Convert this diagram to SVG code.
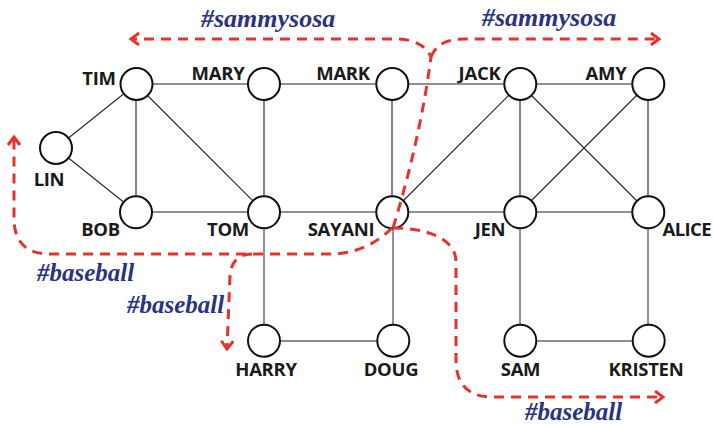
<svg xmlns="http://www.w3.org/2000/svg" width="713" height="424" viewBox="0 0 713 424">
<defs>
<style>
.edge{stroke:#222;stroke-width:1.1;fill:none}
.edge.g{stroke:#666;stroke-width:1.4}
.node circle{fill:#fff;stroke:#111;stroke-width:2}
.lbl{font-family:"Open Sans",sans-serif;font-weight:bold;font-size:18.5px;fill:#1a1a1a;text-anchor:middle;letter-spacing:-0.3px}
.tag{font-family:"Liberation Serif",serif;font-weight:bold;font-style:italic;font-size:25px;fill:#2a3382}
.tag.s{font-size:26px}
.flow{fill:none;stroke:#e4332a;stroke-width:3;stroke-dasharray:10 7}
</style>
<marker id="ah" viewBox="0 0 12 14" refX="10" refY="7" markerWidth="12" markerHeight="14" markerUnits="userSpaceOnUse" orient="auto">
<path d="M2 1 L10 7 L2 13" fill="none" stroke="#e4332a" stroke-width="3"/>
</marker>
</defs>
<rect width="713" height="424" fill="#fff"/>
<g id="connectors">
<line class="edge" x1="136" y1="84" x2="264" y2="84"/>
<line class="edge" x1="264" y1="84" x2="392" y2="84"/>
<line class="edge" x1="392" y1="84" x2="520" y2="84"/>
<line class="edge" x1="520" y1="84" x2="648" y2="84"/>
<line class="edge" x1="136" y1="84" x2="56" y2="148"/>
<line class="edge" x1="56" y1="148" x2="136" y2="212"/>
<line class="edge" x1="136" y1="84" x2="136" y2="212"/>
<line class="edge" x1="136" y1="84" x2="264" y2="212"/>
<line class="edge" x1="264" y1="84" x2="264" y2="212"/>
<line class="edge" x1="136" y1="212" x2="264" y2="212"/>
<line class="edge" x1="264" y1="212" x2="392" y2="212"/>
<line class="edge" x1="392" y1="212" x2="520" y2="212"/>
<line class="edge" x1="520" y1="212" x2="648" y2="212"/>
<line class="edge" x1="392" y1="84" x2="392" y2="212"/>
<line class="edge" x1="520" y1="84" x2="392" y2="212"/>
<line class="edge" x1="520" y1="84" x2="520" y2="212"/>
<line class="edge" x1="520" y1="84" x2="648" y2="212"/>
<line class="edge" x1="648" y1="84" x2="520" y2="212"/>
<line class="edge" x1="648" y1="84" x2="648" y2="212"/>
<line class="edge g" x1="264" y1="212" x2="264" y2="341"/>
<line class="edge g" x1="393" y1="212" x2="393" y2="341"/>
<line class="edge g" x1="264" y1="341" x2="393" y2="341"/>
<line class="edge g" x1="520" y1="212" x2="520" y2="341"/>
<line class="edge g" x1="648" y1="212" x2="648" y2="341"/>
<line class="edge" x1="520" y1="341" x2="648" y2="341"/>
</g>
<g id="TIM" class="node"><circle cx="136.5" cy="84" r="16"/><text class="lbl" x="99" y="85">TIM</text></g>
<g id="MARY" class="node"><circle cx="264" cy="84" r="16"/><text class="lbl" x="218" y="80">MARY</text></g>
<g id="MARK" class="node"><circle cx="392.3" cy="84" r="16"/><text class="lbl" x="343" y="80">MARK</text></g>
<g id="JACK" class="node"><circle cx="520.3" cy="84" r="16"/><text class="lbl" x="479.5" y="80">JACK</text></g>
<g id="AMY" class="node"><circle cx="648.3" cy="84" r="16"/><text class="lbl" x="606" y="80">AMY</text></g>
<g id="LIN" class="node"><circle cx="56" cy="148" r="16"/><text class="lbl" x="49" y="186">LIN</text></g>
<g id="BOB" class="node"><circle cx="136" cy="212.3" r="16"/><text class="lbl" x="100.5" y="236">BOB</text></g>
<g id="TOM" class="node"><circle cx="264" cy="212.3" r="16"/><text class="lbl" x="228" y="236">TOM</text></g>
<g id="SAYANI" class="node"><circle cx="392.3" cy="212.3" r="16"/><text class="lbl" x="341" y="236">SAYANI</text></g>
<g id="JEN" class="node"><circle cx="520.3" cy="212.3" r="16"/><text class="lbl" x="490" y="236">JEN</text></g>
<g id="ALICE" class="node"><circle cx="648.3" cy="212.3" r="16"/><text class="lbl" x="711" y="236" style="text-anchor:end;letter-spacing:-0.6px">ALICE</text></g>
<g id="HARRY" class="node"><circle cx="264" cy="340.7" r="16"/><text class="lbl" x="266" y="376">HARRY</text></g>
<g id="DOUG" class="node"><circle cx="393.3" cy="340.7" r="16"/><text class="lbl" x="391" y="376">DOUG</text></g>
<g id="SAM" class="node"><circle cx="520.3" cy="340.7" r="16"/><text class="lbl" x="520.5" y="376">SAM</text></g>
<g id="KRISTEN" class="node"><circle cx="648.7" cy="340.7" r="16"/><text class="lbl" x="646" y="376">KRISTEN</text></g>
<g id="flows">
<path class="flow" d="M393 228 Q420 140 431 57 C426 46 415 39 395 39 L131 39" marker-end="url(#ah)"/>
<path class="flow" d="M431 57 C436 45 445 39 465 39 L659 39" marker-end="url(#ah)"/>
<path class="flow" d="M392 228 C380 240 360 254 330 254 L50 254 Q14 254 14 218 L14 137" marker-end="url(#ah)"/>
<path class="flow" d="M252 254 C238 254 231 262 230 276 L227 349" marker-end="url(#ah)"/>
<path class="flow" d="M393 228 C430 228 456 240 456 262 L456 360 Q456 397 493 397 L663 397" marker-end="url(#ah)"/>
</g>
<g id="tags">
<text class="tag s" x="201" y="27">#sammysosa</text>
<text class="tag s" x="482" y="26">#sammysosa</text>
<text class="tag" x="37" y="281">#baseball</text>
<text class="tag" x="127" y="313">#baseball</text>
<text class="tag" x="525" y="420">#baseball</text>
</g>
</svg>
